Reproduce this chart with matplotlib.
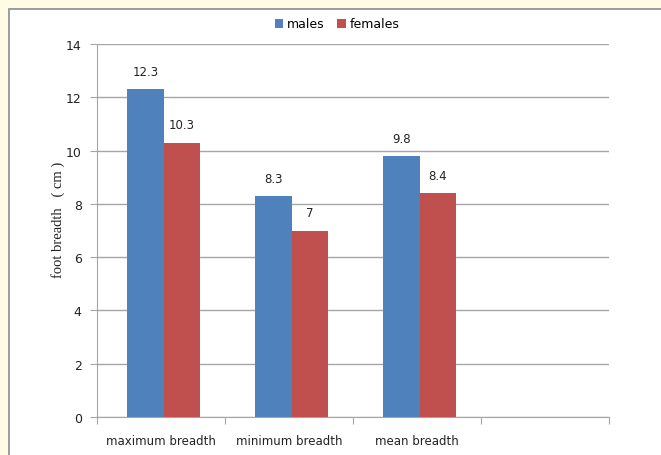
import matplotlib
matplotlib.use('Agg')
import matplotlib.pyplot as plt
import numpy as np
from matplotlib.patches import Rectangle

categories = ['maximum breadth', 'minimum breadth', 'mean breadth', '']
males = [12.3, 8.3, 9.8]
females = [10.3, 7.0, 8.4]
male_labels = ['12.3', '8.3', '9.8']
female_labels = ['10.3', '7', '8.4']

blue = '#4F81BD'
red = '#C0504D'
grid = '#A6A6A6'

fig = plt.figure(figsize=(6.61, 4.56), dpi=100)
fig.patch.set_facecolor('#FFFCE5')

# white chart area with grey border, running off the right/bottom edges
fig.patches.append(Rectangle((9 / 661, -0.05), 1.0, 1 - 10 / 456 + 0.05,
                             transform=fig.transFigure, facecolor='white',
                             edgecolor='#8C8C8C', linewidth=1.2, zorder=-10))

ax = fig.add_axes([97 / 661, 1 - 418 / 456, 512 / 661, 373 / 456])
ax.set_zorder(1)
ax.set_facecolor('white')

# groups sit a touch right of the category centre, as in the original
x = np.arange(len(males)) + 0.52
w = 0.285
b1 = ax.bar(x - w / 2, males, w, color=blue, label='males', zorder=3)
b2 = ax.bar(x + w / 2, females, w, color=red, label='females', zorder=3)

for rect, lab in zip(b1, male_labels):
    ax.annotate(lab, (rect.get_x() + rect.get_width() / 2, rect.get_height()),
                xytext=(0, 8), textcoords='offset points', ha='center',
                va='bottom', fontsize=8.5, color='#222222')
for rect, lab in zip(b2, female_labels):
    ax.annotate(lab, (rect.get_x() + rect.get_width() / 2, rect.get_height()),
                xytext=(0, 8), textcoords='offset points', ha='center',
                va='bottom', fontsize=8.5, color='#222222')

ax.set_xlim(0, 4)
ax.set_ylim(0, 14)
ax.set_yticks(range(0, 15, 2))
ax.yaxis.grid(True, color=grid, linewidth=1, zorder=0)
ax.set_axisbelow(True)

# category boundaries as ticks, names in between
ax.set_xticks(range(0, 5))
ax.set_xticklabels([])
ax.set_xticks(np.arange(4) + 0.5, minor=True)
ax.set_xticklabels(categories, minor=True, fontsize=8.5, color='#222222')
ax.tick_params(axis='x', which='minor', length=0, pad=12)
ax.tick_params(axis='x', which='major', length=5, color=grid, direction='out')
ax.tick_params(axis='y', length=5, color=grid, labelsize=9, labelcolor='#222222', pad=6)

for s in ['top', 'right']:
    ax.spines[s].set_visible(False)
ax.spines['left'].set_color(grid)
ax.spines['bottom'].set_color(grid)

ax.set_ylabel('foot breadth   ( cm )', fontsize=10.5, color='#222222',
              family='Liberation Serif')
ax.yaxis.set_label_coords(-0.062, 0.53)

fig.legend(loc='center', bbox_to_anchor=(337 / 661, 1 - 25 / 456), ncol=2, frameon=False,
           fontsize=9, handlelength=0.7, handleheight=0.7, handletextpad=0.3,
           columnspacing=1.0)

fig.savefig('out.png', dpi=100, facecolor=fig.get_facecolor())
